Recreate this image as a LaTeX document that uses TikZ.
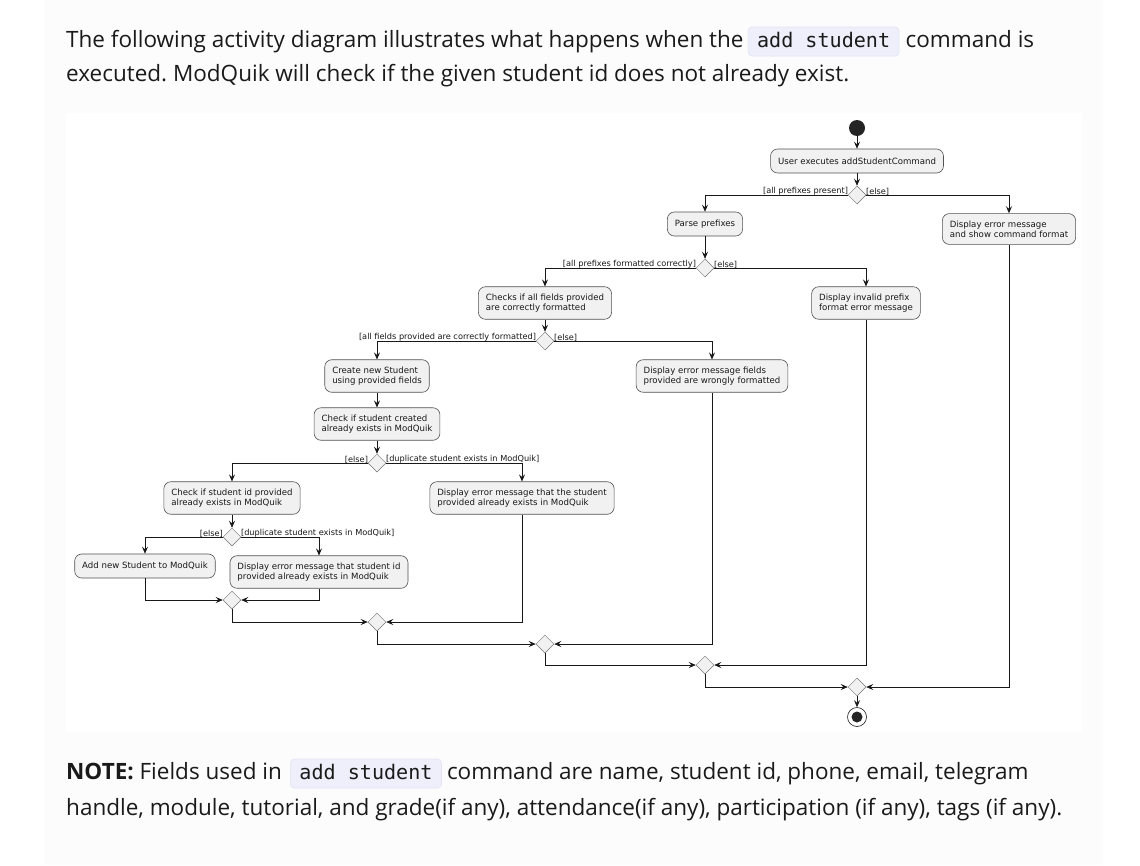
\documentclass[tikz,border=0pt]{standalone}
\usepackage{fontspec}
\setmainfont{Open Sans}
\setmonofont{DejaVu Sans Mono}
\newfontfamily\djv{DejaVu Sans}
\usetikzlibrary{shapes.geometric,arrows.meta,positioning,calc}
\definecolor{pagebg}{HTML}{FCFCFC}
\definecolor{boxfill}{HTML}{F1F1F1}
\definecolor{codebg}{HTML}{EFEFFC}
\definecolor{codeline}{HTML}{E3E3F2}
\definecolor{ink}{HTML}{181818}
\definecolor{txt}{HTML}{1A1A1A}
\frenchspacing
\tikzset{
  x=1pt,y=-1pt,
  act/.style={draw=ink!75,line width=0.6pt,fill=boxfill,rounded corners=7pt,
    font=\djv\fontsize{8.6}{10.2}\selectfont,align=left,inner xsep=7.5pt,inner ysep=7pt,
    minimum height=24pt,text=ink},
  dia/.style={diamond,aspect=1,minimum size=18pt,inner sep=0pt,draw=ink!60,line width=0.5pt,fill=boxfill},
  lbl/.style={font=\djv\fontsize{8.2}{9}\selectfont,inner sep=0.6pt,text=ink},
  arr/.style={draw=ink,line width=0.7pt,-{Stealth[length=7pt,width=6pt,inset=2.6pt]}},
  body/.style={font=\fontsize{22.5}{27}\selectfont,text=txt,inner sep=0pt},
  code/.style={font=\ttfamily\fontsize{20.1}{24}\selectfont,fill=codebg,draw=codeline,line width=0.6pt,
    rounded corners=4pt,inner xsep=9pt,inner ysep=0pt,text height=20pt,text depth=9pt,text=txt}
}
\begin{document}
\begin{tikzpicture}
\useasboundingbox (0,0) rectangle (1140,865);
\fill[white] (0,0) rectangle (1140,865);
\fill[pagebg] (44,0) rectangle (1103,865);
\fill[white] (66,113) rectangle (1082,732);

% top paragraph
\node[body,anchor=base west] (p1) at (66,47) {The following activity diagram illustrates what happens when the};
\node[code,anchor=base west] (c1) at ($(p1.base east)+(4,0)$) {add student};
\node[body,anchor=base west] (p1b) at ($(c1.base east)+(6,0)$) {command is};
\node[body,anchor=base west] (p2) at (66,81) {executed. ModQuik will check if the given student id does not already exist.};

% bottom paragraph
\node[body,anchor=base west] (n1) at (66,779) {\textbf{NOTE:} Fields used in};
\node[code,anchor=base west] (c2) at ($(n1.base east)+(8,0)$) {add student};
\node[body,anchor=base west] (n1b) at ($(c2.base east)+(5,0)$) {command are name, student id, phone, email, telegram};
\node[body,anchor=base west] (n2) at (66,815) {handle, module, tutorial, and grade(if any), attendance(if any), participation (if any), tags (if any).};

% diagram
\node[circle,fill=ink!95,minimum size=16pt,inner sep=0pt] (start) at (857,128) {};
\node[act] (user) at (857,161) {User executes addStudentCommand};
\node[dia] (d1) at (857,195) {};
\node[act] (parse) at (705,224) {Parse prefixes};
\node[act] (errfmt) at (1009,229) {Display error message\\and show command format};
\node[dia] (d2) at (705,268) {};
\node[act] (checks) at (545,303) {Checks if all fields provided\\are correctly formatted};
\node[act] (invpre) at (866,303) {Display invalid prefix\\format error message};
\node[dia] (d3) at (545,341) {};
\node[act] (create) at (377,376) {Create new Student\\using provided fields};
\node[act] (wrong) at (712,376) {Display error message fields\\provided are wrongly formatted};
\node[act] (chkcre) at (377,424) {Check if student created\\already exists in ModQuik};
\node[dia] (d4) at (377,463) {};
\node[act] (chkid) at (232,498) {Check if student id provided\\already exists in ModQuik};
\node[act] (dupst) at (522,498) {Display error message that the student\\provided already exists in ModQuik};
\node[dia] (d5) at (232,537) {};
\node[act] (addst) at (145,566) {Add new Student to ModQuik};
\node[act] (dupid) at (319,572) {Display error message that student id\\provided already exists in ModQuik};
\node[dia] (m6) at (232,600) {};
\node[dia] (m7) at (377,622) {};
\node[dia] (m8) at (545,644) {};
\node[dia] (m9) at (705,665) {};
\node[dia] (m10) at (857,687) {};
\node[circle,draw=ink,line width=0.6pt,fill=white,minimum size=19pt,inner sep=0pt] (stop) at (857,717) {};
\node[circle,fill=ink!95,minimum size=11pt,inner sep=0pt] (stopin) at (stop.center) {};

% guards
\node[lbl,anchor=south east] (g1a) at ($(d1.west)+(1,1)$) {[all prefixes present]};
\node[lbl,anchor=south west] (g1b) at ($(d1.east)+(-1,1)$) {[else]};
\node[lbl,anchor=south east] (g2a) at ($(d2.west)+(1,1)$) {[all prefixes formatted correctly]};
\node[lbl,anchor=south west] (g2b) at ($(d2.east)+(-1,1)$) {[else]};
\node[lbl,anchor=south east] (g3a) at ($(d3.west)+(1,1)$) {[all fields provided are correctly formatted]};
\node[lbl,anchor=south west] (g3b) at ($(d3.east)+(-1,1)$) {[else]};
\node[lbl,anchor=south east] (g4a) at ($(d4.west)+(1,1)$) {[else]};
\node[lbl,anchor=south west] (g4b) at ($(d4.east)+(-1,1)$) {[duplicate student exists in ModQuik]};
\node[lbl,anchor=south east] (g5a) at ($(d5.west)+(1,1)$) {[else]};
\node[lbl,anchor=south west] (g5b) at ($(d5.east)+(-1,1)$) {[duplicate student exists in ModQuik]};

% flow
\draw[arr] (start) -- (user);
\draw[arr] (user) -- (d1);
\draw[arr] (d1.west) -| (parse.north);
\draw[arr] (d1.east) -| (errfmt.north);
\draw[arr] (parse) -- (d2);
\draw[arr] (d2.west) -| (checks.north);
\draw[arr] (d2.east) -| (invpre.north);
\draw[arr] (checks) -- (d3);
\draw[arr] (d3.west) -| (create.north);
\draw[arr] (d3.east) -| (wrong.north);
\draw[arr] (create) -- (chkcre);
\draw[arr] (chkcre) -- (d4);
\draw[arr] (d4.west) -| (chkid.north);
\draw[arr] (d4.east) -| (dupst.north);
\draw[arr] (chkid) -- (d5);
\draw[arr] (d5.west) -| (addst.north);
\draw[arr] (d5.east) -| (dupid.north);
% merges
\draw[arr] (addst.south) |- (m6.west);
\draw[arr] (dupid.south) |- (m6.east);
\draw[arr] (m6.south) |- (m7.west);
\draw[arr] (dupst.south) |- (m7.east);
\draw[arr] (m7.south) |- (m8.west);
\draw[arr] (wrong.south) |- (m8.east);
\draw[arr] (m8.south) |- (m9.west);
\draw[arr] (invpre.south) |- (m9.east);
\draw[arr] (m9.south) |- (m10.west);
\draw[arr] (errfmt.south) |- (m10.east);
\draw[arr] (m10) -- (stop);
\end{tikzpicture}
\end{document}
